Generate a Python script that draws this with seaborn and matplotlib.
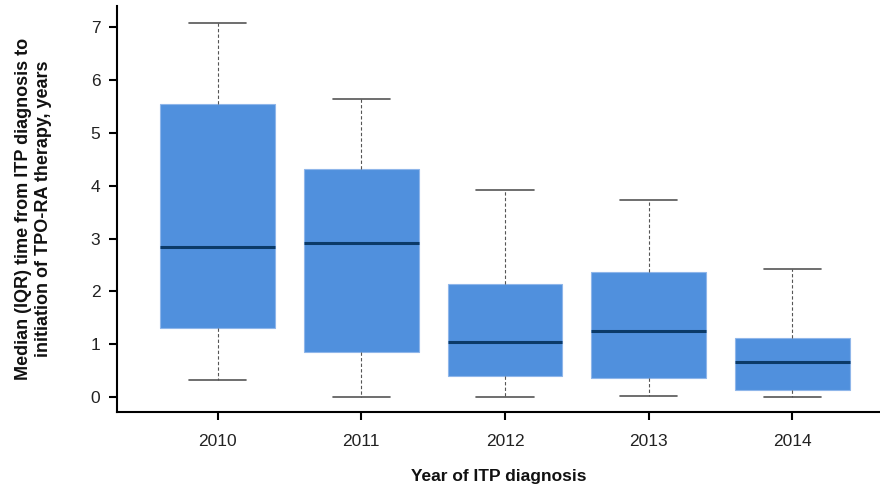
import numpy as np
import pandas as pd
import matplotlib
matplotlib.use('Agg')
import matplotlib.pyplot as plt
import seaborn as sns

# Summary values (years)
years = ['2010', '2011', '2012', '2013', '2014']
whisker_low = [0.32, 0.00, 0.00, 0.02, 0.00]
q1 = [1.31, 0.85, 0.40, 0.37, 0.13]
median = [2.84, 2.91, 1.04, 1.25, 0.67]
q3 = [5.54, 4.31, 2.14, 2.36, 1.12]
whisker_high = [7.08, 5.64, 3.92, 3.73, 2.42]

# Five points per year reproduce the box exactly (min, q1, median, q3, max)
rows = []
for i, yr in enumerate(years):
    for v in [whisker_low[i], q1[i], median[i], q3[i], whisker_high[i]]:
        rows.append({'year': yr, 'time': v})
df = pd.DataFrame(rows)

sns.set_style('ticks')
plt.rcParams['font.family'] = ['Liberation Sans', 'DejaVu Sans']

fig = plt.figure(figsize=(8.8, 4.9), dpi=100)
ax = fig.add_axes([0.133, 0.159, 0.867, 0.829])

sns.boxplot(data=df, x='year', y='time', order=years, whis=(0, 100), width=0.8,
            color='#5090DD', saturation=1, showfliers=False, ax=ax,
            boxprops=dict(facecolor='#5090DD', edgecolor='#8FB6EA', linewidth=0.8),
            medianprops=dict(color='#0B3A68', linewidth=2.2),
            whiskerprops=dict(color='#555555', linewidth=0.8, linestyle=(0, (3, 2))),
            capprops=dict(color='#555555', linewidth=1.2))

ax.set_xlim(-0.70, 4.61)
ax.set_ylim(-0.28, 7.40)
ax.set_yticks(range(0, 8))
sns.despine(ax=ax)
for s in ['left', 'bottom']:
    ax.spines[s].set_linewidth(1.5)
    ax.spines[s].set_color('black')
ax.tick_params(axis='both', direction='out', length=6, width=1.5, labelsize=12.5,
               colors='black', labelcolor='#222222')
ax.tick_params(axis='x', pad=10)
ax.tick_params(axis='y', pad=6)

ax.set_xlabel('Year of ITP diagnosis', fontsize=12.5, fontweight='bold', labelpad=14,
              color='#111111')
ax.set_ylabel('Median (IQR) time from ITP diagnosis to\ninitiation of TPO-RA therapy, years',
              fontsize=13, fontweight='bold', labelpad=28, color='#111111')

fig.savefig('out.png', dpi=100)
